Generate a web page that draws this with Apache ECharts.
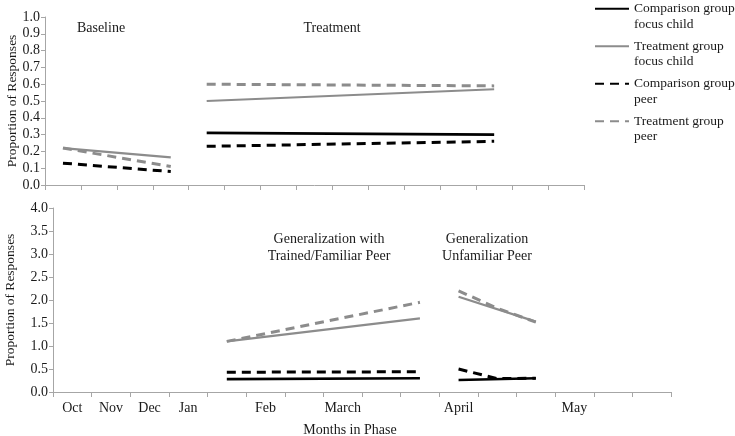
<!DOCTYPE html>
<html>
<head>
<meta charset="utf-8">
<script src="https://cdn.jsdelivr.net/npm/echarts@6/dist/echarts.min.js"></script>
<style>html,body{margin:0;padding:0;background:#fff}#c{width:735px;height:436px}</style>
</head>
<body>
<div id="c"></div>
<script>
// ---- categories ----
var topSlots = ['', '', '', '', '', '', '', '', '', '', '', '', '', '', ''];
var bottomMonths = ['Oct', 'Nov', 'Dec', 'Jan', '', 'Feb', '', 'March', '', '', 'April', '', '', 'May', '', ''];
var topTicks = [0.0, 0.1, 0.2, 0.3, 0.4, 0.5, 0.6, 0.7, 0.8, 0.9, 1.0];
var bottomTicks = [0.0, 0.5, 1.0, 1.5, 2.0, 2.5, 3.0, 3.5, 4.0];

// ---- phase start slots ----
var baselineStart = 0;
var treatmentStart = 4;
var genTrainedStart = 4;
var genUnfamiliarStart = 10;

// ---- Baseline (top panel) ----
var baseTreatFocus = [0.22, null, null, 0.165];
var baseCompPeer = [0.13, null, null, 0.08];
var baseTreatPeer = [0.22, null, null, 0.11];

// ---- Treatment (top panel) ----
var treatCompFocus = [0.31, null, null, null, null, null, null, null, 0.30];
var treatTreatFocus = [0.50, null, null, null, null, null, null, null, 0.57];
var treatCompPeer = [0.23, null, null, null, null, null, null, null, 0.26];
var treatTreatPeer = [0.60, null, null, null, null, null, null, null, 0.59];

// ---- Generalization with trained/familiar peer (bottom) ----
var genTCompFocus = [0.28, null, null, null, null, 0.30];
var genTTreatFocus = [1.10, null, null, null, null, 1.60];
var genTCompPeer = [0.43, null, null, null, null, 0.44];
var genTTreatPeer = [1.10, null, null, null, null, 1.95];

// ---- Generalization unfamiliar peer (bottom) ----
var genUCompFocus = [0.26, null, 0.30];
var genUTreatFocus = [2.07, null, 1.53];
var genUCompPeer = [0.50, 0.29, 0.30];
var genUTreatPeer = [2.20, 1.82, 1.52];

var names = ['Comparison group\nfocus child', 'Treatment group\nfocus child', 'Comparison group\npeer', 'Treatment group\npeer'];

function pad(arr, start, len) {
  var out = [];
  for (var i = 0; i < len; i++) out.push(null);
  for (var j = 0; j < arr.length; j++) out[start + j] = arr[j];
  return out;
}

var GRAY = '#8c8c8c';
var styles = [
  {color: '#000', width: 2.6, type: 'solid'},
  {color: GRAY, width: 2.2, type: 'solid'},
  {color: '#000', width: 3, type: [9, 6]},
  {color: GRAY, width: 3, type: [9, 6]}
];

function mk(nameIdx, data, gridIdx) {
  var s = styles[nameIdx];
  return {
    name: names[nameIdx], type: 'line', xAxisIndex: gridIdx, yAxisIndex: gridIdx,
    data: data, connectNulls: true, symbol: 'none', showSymbol: false, silent: true, animation: false,
    itemStyle: {color: s.color},
    lineStyle: {color: s.color, width: s.width, type: s.type}
  };
}

var nT = topSlots.length, nB = bottomMonths.length;
var series = [
  mk(0, pad([], 0, nT), 0),
  mk(1, pad(baseTreatFocus, baselineStart, nT), 0),
  mk(2, pad(baseCompPeer, baselineStart, nT), 0),
  mk(3, pad(baseTreatPeer, baselineStart, nT), 0),
  mk(0, pad(treatCompFocus, treatmentStart, nT), 0),
  mk(1, pad(treatTreatFocus, treatmentStart, nT), 0),
  mk(2, pad(treatCompPeer, treatmentStart, nT), 0),
  mk(3, pad(treatTreatPeer, treatmentStart, nT), 0),
  mk(0, pad(genTCompFocus, genTrainedStart, nB), 1),
  mk(1, pad(genTTreatFocus, genTrainedStart, nB), 1),
  mk(2, pad(genTCompPeer, genTrainedStart, nB), 1),
  mk(3, pad(genTTreatPeer, genTrainedStart, nB), 1),
  mk(0, pad(genUCompFocus, genUnfamiliarStart, nB), 1),
  mk(1, pad(genUTreatFocus, genUnfamiliarStart, nB), 1),
  mk(2, pad(genUCompPeer, genUnfamiliarStart, nB), 1),
  mk(3, pad(genUTreatPeer, genUnfamiliarStart, nB), 1)
];

var FONT = 'Liberation Serif';
var AX = '#a6a6a6';
var TXT = '#1a1a1a';

function yAx(gridIdx, ticks, gap) {
  return {
    type: 'value', gridIndex: gridIdx, min: ticks[0], max: ticks[ticks.length - 1],
    interval: ticks[1] - ticks[0],
    name: 'Proportion of Responses', nameLocation: 'middle', nameGap: gap, nameMoveOverlap: false,
    nameTextStyle: {fontFamily: FONT, fontSize: 13.5, color: TXT},
    axisLine: {show: true, lineStyle: {color: AX, width: 1}},
    axisTick: {show: true, length: 4, lineStyle: {color: AX}},
    splitLine: {show: false},
    axisLabel: {fontFamily: FONT, fontSize: 14, color: TXT, margin: 5,
      formatter: function (v) { return v.toFixed(1); }}
  };
}

var option = {
  backgroundColor: '#fff',
  animation: false,
  grid: [
    {left: 45, right: 151, top: 17, height: 168, containLabel: false, outerBoundsMode: 'none'},
    {left: 53, right: 64, top: 208, height: 184, containLabel: false, outerBoundsMode: 'none'}
  ],
  xAxis: [
    {type: 'category', gridIndex: 0, data: topSlots, boundaryGap: true,
      axisLine: {lineStyle: {color: AX}}, axisTick: {show: true, length: 5, lineStyle: {color: AX}},
      axisLabel: {show: false}, splitLine: {show: false}},
    {type: 'category', gridIndex: 1, data: bottomMonths, boundaryGap: true,
      axisLine: {lineStyle: {color: AX}}, axisTick: {show: true, length: 5, interval: 0, lineStyle: {color: AX}},
      axisLabel: {interval: 0, fontFamily: FONT, fontSize: 14, color: TXT, margin: 9}, splitLine: {show: false}}
  ],
  yAxis: [yAx(0, topTicks, 26), yAx(1, bottomTicks, 36)],
  legend: {
    orient: 'vertical', left: 594, top: -14.5, padding: 0, itemGap: -9, itemWidth: 34, itemHeight: 14,
    data: names, selectedMode: false,
    itemStyle: {opacity: 0, borderWidth: 0},
    formatter: function (n) { return '\n' + n; },
    textStyle: {fontFamily: FONT, fontSize: 13.5, color: TXT, lineHeight: 15.5}
  },
  graphic: [
    {type: 'text', x: 101, y: 28, style: {text: 'Baseline', fontFamily: FONT, fontSize: 14, fill: TXT, align: 'center', verticalAlign: 'middle'}},
    {type: 'text', x: 332, y: 28, style: {text: 'Treatment', fontFamily: FONT, fontSize: 14, fill: TXT, align: 'center', verticalAlign: 'middle'}},
    {type: 'text', x: 329, y: 248, style: {text: 'Generalization with\nTrained/Familiar Peer', fontFamily: FONT, fontSize: 14, lineHeight: 17, fill: TXT, align: 'center', verticalAlign: 'middle'}},
    {type: 'text', x: 487, y: 248, style: {text: 'Generalization\nUnfamiliar Peer', fontFamily: FONT, fontSize: 14, lineHeight: 17, fill: TXT, align: 'center', verticalAlign: 'middle'}},
    {type: 'text', x: 350, y: 430, style: {text: 'Months in Phase', fontFamily: FONT, fontSize: 14, fill: TXT, align: 'center', verticalAlign: 'middle'}}
  ],
  series: series
};

var chart = echarts.init(document.getElementById('c'), null, {renderer: 'canvas'});
chart.setOption(option);
</script>
</body>
</html>
